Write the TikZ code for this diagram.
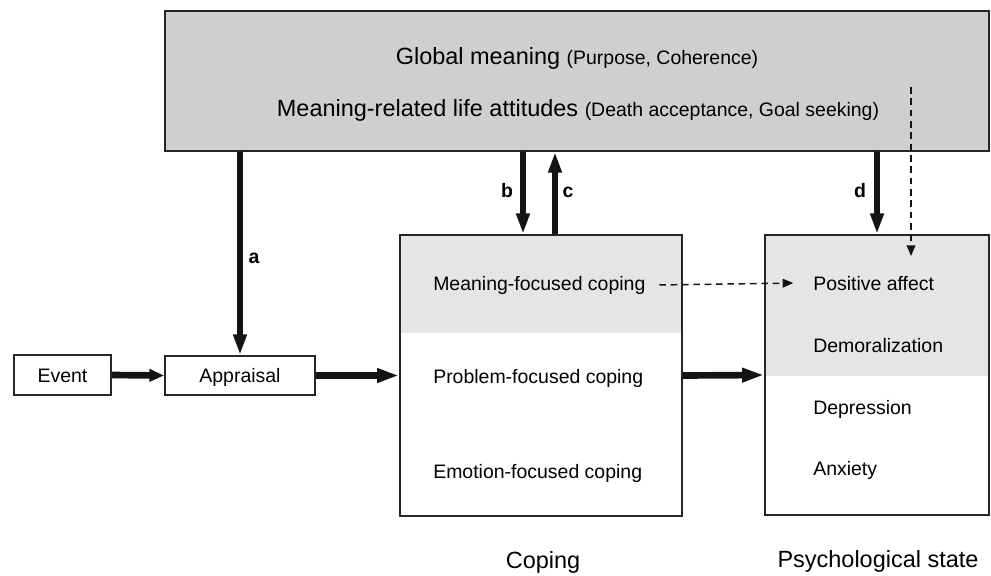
\documentclass[tikz,border=0pt]{standalone}
\usepackage{fontspec}
\setmainfont{Liberation Sans}
\usepackage{xcolor}
\usetikzlibrary{arrows.meta}

\definecolor{topgray}{HTML}{CFCFCF}
\definecolor{bandgray}{HTML}{E4E5E4}
\definecolor{edgegray}{HTML}{262626}
\definecolor{inkblack}{HTML}{141414}
\newcommand{\lgfont}{\fontsize{17.6}{21}\selectfont}
\newcommand{\smfont}{\fontsize{14.6}{17}\selectfont}

\begin{document}
\begin{tikzpicture}[x=0.75pt,y=0.75pt,yscale=-1,xscale=1,
  box/.style={draw=edgegray,line width=1.4pt,inner sep=0pt,text height=10.5pt,text depth=0pt},
  txt/.style={inner sep=0.75pt,font=\smfont},
  tag/.style={inner sep=0.75pt,font=\smfont\bfseries},
  downarrow/.style={draw=inkblack,line width=4.5pt,-{Triangle[length=15.5pt,width=9.5pt]}},
  sidearrow/.style={draw=inkblack,line width=5pt,-{Triangle[length=16.5pt,width=10pt]}},
  dasharrow/.style={draw=inkblack,line width=1.1pt,dash pattern=on 5pt off 3.5pt,-{Triangle[length=8pt,width=6.5pt]}}]

\useasboundingbox (0,0) rectangle (991,575);

% shaded bands in the two right boxes
\fill[bandgray] (400,235) rectangle (682,333);
\fill[bandgray] (765,235) rectangle (989,376);

% boxes
\node[box,fill=topgray,minimum width=618pt,minimum height=105pt] (global) at (577,81) {};
\node[box,minimum width=72.75pt,minimum height=30pt,font=\smfont] (event) at (62.5,375) {Event};
\node[box,minimum width=112.5pt,minimum height=29.25pt,font=\smfont] (appraisal) at (240,375.5) {Appraisal};
\node[box,minimum width=211.5pt,minimum height=210.75pt] (coping) at (541,375.5) {};
\node[box,minimum width=168pt,minimum height=210pt] (psych) at (877,375) {};

% texts of the top box
\node[inner sep=0.75pt,anchor=base] (gm) at (577,64) {\lgfont Global meaning {\smfont (Purpose, Coherence)}};
\node[inner sep=0.75pt,anchor=base] (mla) at (578,116) {\lgfont Meaning-related life attitudes {\smfont (Death acceptance, Goal seeking)}};

% coping styles
\node[txt,anchor=base west] (mfc) at (432,290) {Meaning-focused coping};
\node[txt,anchor=base west] (pfc) at (432,383) {Problem-focused coping};
\node[txt,anchor=base west] (efc) at (432,478) {Emotion-focused coping};

% psychological states
\node[txt,anchor=base west] (pa) at (812,290) {Positive affect};
\node[txt,anchor=base west] (dem) at (812,352) {Demoralization};
\node[txt,anchor=base west] (dep) at (812,414) {Depression};
\node[txt,anchor=base west] (anx) at (812,475) {Anxiety};

% captions
\node[inner sep=0.75pt,anchor=base,font=\lgfont] (copcap) at (543,568) {Coping};
\node[inner sep=0.75pt,anchor=base,font=\lgfont] (psycap) at (878,567) {Psychological state};

% path labels
\node[tag,anchor=base] (la) at (254,263) {a};
\node[tag,anchor=base] (lb) at (507,197) {b};
\node[tag,anchor=base] (lc) at (568,197) {c};
\node[tag,anchor=base] (ld) at (860,197) {d};

% main chain
\draw[sidearrow,-{Triangle[length=11pt,width=9pt]}] (event.east) -- (appraisal.west);
\draw[sidearrow] (appraisal.east) -- (coping.west);
\draw[sidearrow] (coping.east) -- (psych.west);

% paths from and to global meaning
\coordinate (bx) at (523,0);
\coordinate (cx) at (555,0);
\draw[downarrow,line width=4pt] (global.south -| appraisal.north) -- (appraisal.north);
\draw[downarrow] (bx |- global.south) -- (bx |- coping.north);
\draw[downarrow] (cx |- coping.north) -- (cx |- global.south);
\draw[downarrow] (global.south -| psych.north) -- (psych.north);

% dashed paths
\coordinate (dtop) at (911,87);
\coordinate (dend) at (911,256);
\draw[dasharrow] (dtop) -- (dend);
\draw[dasharrow] ([xshift=9.5pt]mfc.east) -- ([xshift=-14pt]pa.west);

\end{tikzpicture}
\end{document}
